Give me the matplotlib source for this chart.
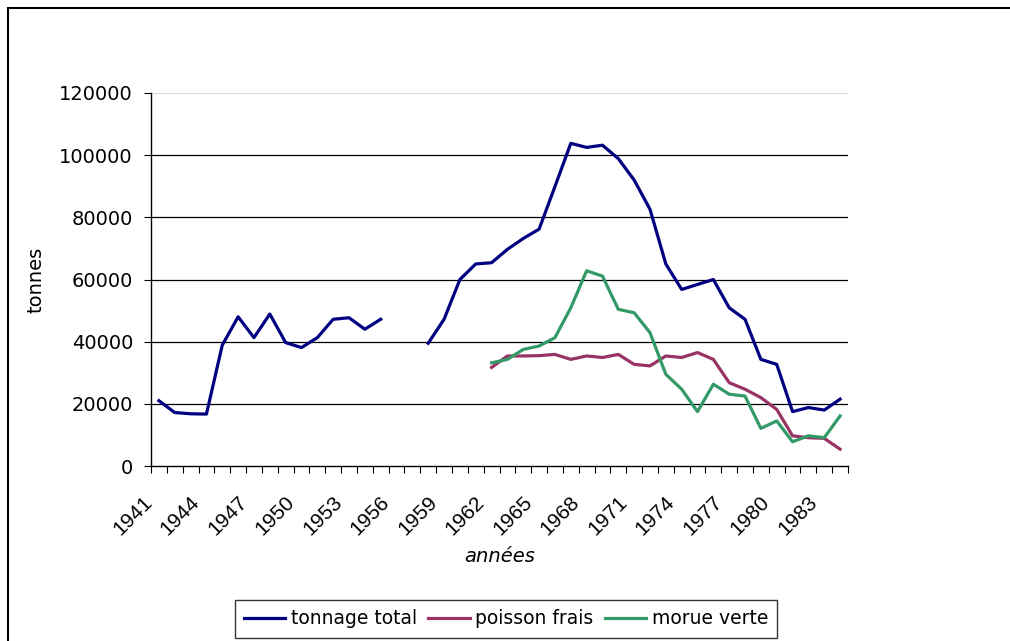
import numpy as np
import matplotlib.pyplot as plt
from matplotlib.patches import Rectangle
from matplotlib.transforms import ScaledTranslation

years = list(range(1941, 1985))
nan = np.nan

tonnage_total = [21000, 17200, 16800, 16700, 38900, 48000, 41300, 48900, 39700, 38100,
                 41300, 47200, 47700, 44000, 47200, nan, nan, 39500, 47200, 60000,
                 65000, 65400, 69700, 73200, 76200, 89900, 103800, 102500, 103200, 98900,
                 92000, 82600, 65000, 56800, 58400, 60000, 50900, 47200, 34300, 32700,
                 17500, 18800, 18000, 21500]
poisson_frais = [nan] * 21 + [31700, 35400, 35400, 35500, 35900, 34300, 35400, 34900, 35900,
                              32700, 32200, 35400, 34900, 36500, 34300, 26800, 24700, 22000,
                              18200, 9700, 9100, 8900, 5400]
morue_verte = [nan] * 21 + [33200, 34300, 37500, 38600, 41300, 50900, 62800, 61100, 50400,
                            49300, 42900, 29500, 24700, 17500, 26300, 23100, 22500, 12100,
                            14500, 7800, 9700, 9100, 16100]

series = [("tonnage total", tonnage_total, "#000080"),
          ("poisson frais", poisson_frais, "#993366"),
          ("morue verte", morue_verte, "#339966")]

plt.rcParams['font.family'] = ['DejaVu Sans']

fig = plt.figure(figsize=(10.1, 6.41), dpi=100)
fig.patches.append(Rectangle((8 / 1010, -0.1), 1.2, (641 - 8) / 641 + 0.1,
                             transform=fig.transFigure, fill=False,
                             edgecolor='black', linewidth=1.5))
ax = fig.add_axes([151 / 1010, 175 / 641, 697 / 1010, 373 / 641])

x = np.arange(len(years))
for name, vals, color in series:
    ax.plot(x, np.array(vals, dtype=float), color=color, linewidth=2.3, label=name)

ax.set_xlim(-0.5, len(years) - 0.5)
ax.set_ylim(0, 120000)
ax.set_yticks(range(0, 120001, 20000))
ax.tick_params(axis='y', labelsize=14, direction='out', length=5, pad=8)
for v in range(20000, 100001, 20000):
    ax.axhline(v, color='black', linewidth=0.9, zorder=0)
ax.axhline(120000, color='#d8d8d8', linewidth=0.9, zorder=0)

ax.set_xticks(np.arange(len(years) + 1) - 0.5)
ax.set_xticklabels([])
ax.set_xticks(x[::3], minor=True)
ax.set_xticklabels([str(y) for y in years[::3]], minor=True, rotation=45,
                   ha='right', va='center', rotation_mode='anchor',
                   fontfamily='Liberation Sans', fontsize=15)
ax.tick_params(axis='x', which='major', direction='out', length=5)
ax.tick_params(axis='x', which='minor', length=0, pad=24)
shift = ScaledTranslation(-10 / 100, 0, fig.dpi_scale_trans)
for lbl in ax.get_xticklabels(minor=True):
    lbl.set_transform(lbl.get_transform() + shift)

for side in ['top', 'right']:
    ax.spines[side].set_visible(False)
ax.spines['left'].set_linewidth(1)
ax.spines['bottom'].set_linewidth(1)

ax.set_xlabel("années", fontsize=14, style='italic', labelpad=6)
ax.set_ylabel("tonnes", fontsize=14, labelpad=10)

fig.legend(loc='center', bbox_to_anchor=(506 / 1010, 1 - 619 / 641), ncol=3,
           fontsize=13.5, frameon=True, fancybox=False, edgecolor='black',
           handlelength=2.2, handletextpad=0.3, columnspacing=0.6, borderpad=0.5)

fig.savefig("out.png", dpi=100)
